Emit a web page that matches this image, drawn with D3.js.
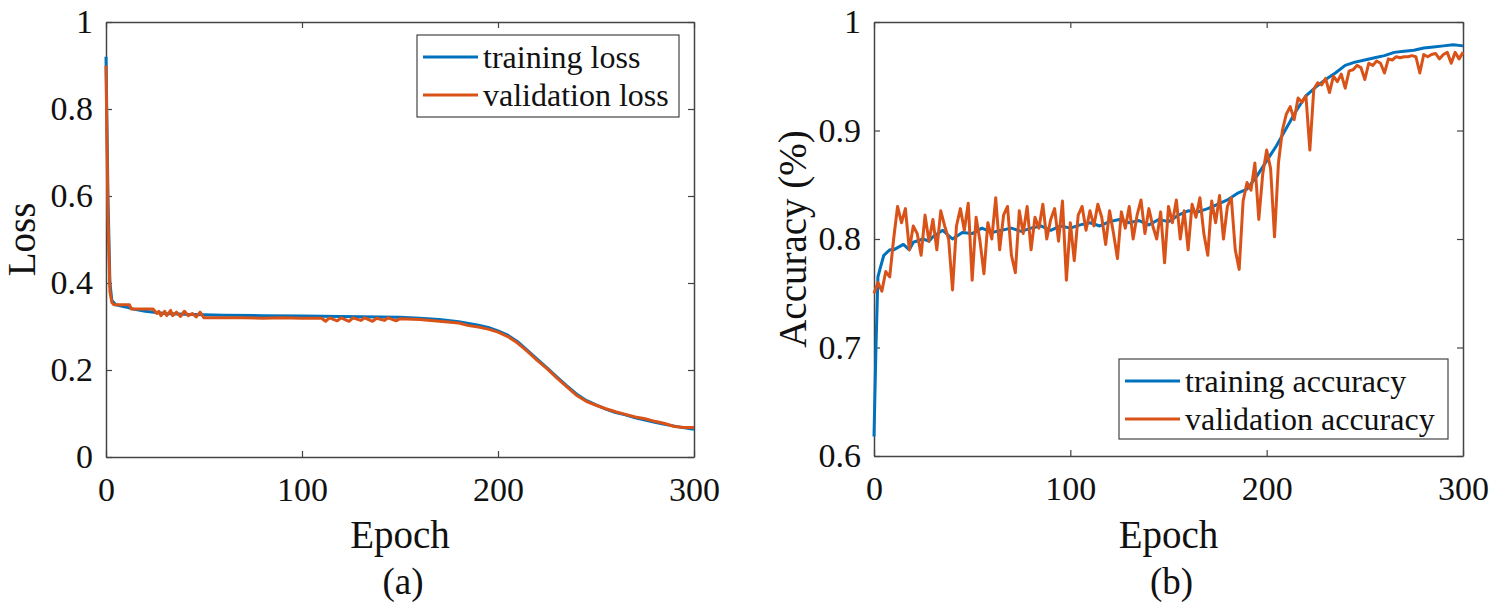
<!DOCTYPE html>
<html>
<head>
<meta charset="utf-8">
<script src="https://cdn.jsdelivr.net/npm/d3@7"></script>
<style>
  body { margin: 0; background: #fff; }
  svg text { font-family: "Liberation Serif", "DejaVu Serif", "Noto Serif", "Times New Roman", serif; fill: #111; }
</style>
</head>
<body>
<div id="chart"></div>
<script>
// ---- data ----
const lossTicksY = [0, 0.2, 0.4, 0.6, 0.8, 1]
const accTicksY = [0.6, 0.7, 0.8, 0.9, 1]
const epochTicks = [0, 100, 200, 300]

const trainLossEpochs = [0, 1, 2, 3, 5, 10, 14, 20, 30, 40, 50, 60, 80, 100, 120, 140, 150, 160, 170, 180, 190, 195, 200, 205, 210, 215, 220, 225, 230, 235, 240, 245, 250, 255, 260, 265, 270, 275, 280, 285, 290, 295, 300]
const trainLoss = [0.92, 0.6, 0.4, 0.36, 0.35, 0.345, 0.34, 0.335, 0.33, 0.328, 0.327, 0.326, 0.325, 0.324, 0.323, 0.322, 0.321, 0.319, 0.316, 0.311, 0.303, 0.298, 0.29, 0.28, 0.265, 0.245, 0.225, 0.205, 0.184, 0.164, 0.145, 0.13, 0.12, 0.11, 0.102, 0.097, 0.09, 0.085, 0.08, 0.075, 0.071, 0.067, 0.064]

const valLossEpochs = [0, 1, 2, 3, 4, 12, 13, 24, 26, 27, 28, 30, 31, 33, 34, 36, 38, 40, 42, 44, 46, 48, 50, 60, 70, 80, 90, 100, 110, 112, 114, 118, 120, 124, 126, 130, 132, 136, 138, 142, 144, 148, 150, 160, 170, 180, 185, 190, 195, 200, 205, 210, 215, 220, 225, 230, 235, 240, 245, 250, 255, 260, 265, 270, 275, 280, 285, 290, 295, 300]
const valLoss = [0.9, 0.55, 0.38, 0.355, 0.35, 0.35, 0.34, 0.34, 0.33, 0.335, 0.325, 0.335, 0.325, 0.337, 0.325, 0.333, 0.323, 0.335, 0.325, 0.33, 0.322, 0.333, 0.32, 0.32, 0.32, 0.319, 0.32, 0.319, 0.319, 0.312, 0.32, 0.313, 0.32, 0.312, 0.32, 0.314, 0.32, 0.312, 0.319, 0.314, 0.32, 0.313, 0.318, 0.316, 0.312, 0.308, 0.302, 0.299, 0.294, 0.287, 0.277, 0.262, 0.243, 0.222, 0.203, 0.182, 0.162, 0.142, 0.128, 0.119, 0.111, 0.104, 0.098, 0.092, 0.088, 0.082, 0.077, 0.07, 0.068, 0.068]

const trainAccEpochs = [0, 1, 2, 3, 5, 8, 10, 12, 15, 18, 20, 25, 28, 30, 35, 40, 45, 50, 55, 60, 65, 70, 75, 80, 85, 90, 95, 100, 105, 110, 115, 120, 125, 130, 135, 140, 145, 150, 155, 160, 165, 170, 175, 180, 185, 190, 195, 200, 205, 210, 215, 220, 225, 230, 235, 240, 245, 250, 255, 260, 265, 270, 275, 280, 285, 290, 295, 300]
const trainAcc = [0.618, 0.7, 0.765, 0.772, 0.785, 0.79, 0.79, 0.792, 0.795, 0.79, 0.797, 0.8, 0.798, 0.802, 0.808, 0.8, 0.806, 0.805, 0.81, 0.806, 0.808, 0.81, 0.807, 0.81, 0.812, 0.808, 0.812, 0.81, 0.813, 0.815, 0.812, 0.816, 0.818, 0.815, 0.817, 0.813, 0.818, 0.816, 0.822, 0.826, 0.825, 0.828, 0.832, 0.836, 0.842, 0.846, 0.858, 0.872, 0.886, 0.902, 0.918, 0.932, 0.94, 0.947, 0.953, 0.96, 0.963, 0.965, 0.967, 0.969, 0.972, 0.973, 0.974, 0.976, 0.977, 0.978, 0.979, 0.978]

const valAccEpochs = d3.range(0, 301, 2)
const valAcc = [
  0.750, 0.760, 0.752, 0.770, 0.765, 0.800, 0.830, 0.815, 0.828, 0.790,
  0.812, 0.805, 0.785, 0.822, 0.798, 0.818, 0.790, 0.826, 0.812, 0.800,
  0.753, 0.812, 0.828, 0.808, 0.833, 0.762, 0.820, 0.798, 0.768, 0.815,
  0.800, 0.838, 0.790, 0.822, 0.830, 0.785, 0.769, 0.826, 0.805, 0.830,
  0.790, 0.820, 0.810, 0.832, 0.800, 0.818, 0.828, 0.798, 0.835, 0.762,
  0.815, 0.780, 0.822, 0.830, 0.808, 0.826, 0.812, 0.832, 0.820, 0.795,
  0.826, 0.805, 0.782, 0.825, 0.810, 0.830, 0.800, 0.822, 0.836, 0.805,
  0.828, 0.812, 0.800, 0.825, 0.778, 0.830, 0.815, 0.836, 0.800, 0.826,
  0.790, 0.832, 0.820, 0.838, 0.805, 0.785, 0.835, 0.815, 0.840, 0.800,
  0.830, 0.838, 0.790, 0.772, 0.835, 0.852, 0.845, 0.870, 0.818, 0.860,
  0.882, 0.865, 0.802, 0.870, 0.900, 0.915, 0.922, 0.910, 0.930, 0.926,
  0.932, 0.882, 0.938, 0.944, 0.942, 0.948, 0.935, 0.950, 0.945, 0.952,
  0.939, 0.955, 0.956, 0.960, 0.958, 0.947, 0.962, 0.960, 0.964, 0.962,
  0.953, 0.966, 0.965, 0.968, 0.967, 0.968, 0.968, 0.969, 0.968, 0.953,
  0.970, 0.968, 0.970, 0.971, 0.966, 0.970, 0.972, 0.962, 0.972, 0.966,
  0.972
]

// ---- drawing ----
const width = 1502
const height = 612
const blue = '#0072BD'
const orange = '#D95319'
const serif = '"Liberation Serif", "DejaVu Serif", "Noto Serif", "Times New Roman", serif'

const svg = d3.select('#chart').append('svg')
  .attr('width', width)
  .attr('height', height)
  .attr('viewBox', `0 0 ${width} ${height}`)

function drawPanel (opt) {
  const x = d3.scaleLinear().domain([0, 300]).range([opt.left, opt.right])
  const y = d3.scaleLinear().domain(opt.yDomain).range([opt.bottom, opt.top])
  const g = svg.append('g')
  const fmt = d3.format('~g')

  const styleAxis = sel => {
    sel.attr('font-family', serif)
    sel.selectAll('.domain').attr('stroke', '#444').attr('stroke-width', 1.5)
    sel.selectAll('.tick line').attr('stroke', '#444').attr('stroke-width', 1.2)
    sel.selectAll('.tick text').attr('font-size', 34).attr('fill', '#111')
  }

  g.append('g').attr('transform', `translate(0,${opt.bottom})`)
    .call(d3.axisBottom(x).tickValues(epochTicks).tickFormat(fmt).tickSizeInner(-6).tickSizeOuter(0).tickPadding(20))
    .call(styleAxis)
  g.append('g').attr('transform', `translate(0,${opt.top})`)
    .call(d3.axisTop(x).tickValues(epochTicks).tickFormat('').tickSizeInner(-6).tickSizeOuter(0))
    .call(styleAxis)
  g.append('g').attr('transform', `translate(${opt.left},0)`)
    .call(d3.axisLeft(y).tickValues(opt.yTicks).tickFormat(fmt).tickSizeInner(-6).tickSizeOuter(0).tickPadding(13))
    .call(styleAxis)
  g.append('g').attr('transform', `translate(${opt.right},0)`)
    .call(d3.axisRight(y).tickValues(opt.yTicks).tickFormat('').tickSizeInner(-6).tickSizeOuter(0))
    .call(styleAxis)

  const line = d3.line().x(d => x(d[0])).y(d => y(d[1]))

  opt.series.forEach(s => {
    g.append('path')
      .datum(d3.zip(s.epochs, s.values))
      .attr('fill', 'none')
      .attr('stroke', s.color)
      .attr('stroke-width', 3)
      .attr('stroke-linejoin', 'round')
      .attr('d', line)
  })

  // axis titles and panel label
  const cx = (opt.left + opt.right) / 2
  g.append('text').attr('x', cx).attr('y', 548)
    .attr('text-anchor', 'middle').attr('font-size', 39).text('Epoch')
  g.append('text').attr('x', cx + 3).attr('y', 594)
    .attr('text-anchor', 'middle').attr('font-size', 37).text(opt.panel)
  g.append('text')
    .attr('transform', `translate(${opt.yLabelX},${(opt.top + opt.bottom) / 2}) rotate(-90)`)
    .attr('text-anchor', 'middle').attr('font-size', 39).text(opt.yLabel)

  // legend
  const lg = g.append('g')
  lg.append('rect')
    .attr('x', opt.legend.x).attr('y', opt.legend.y)
    .attr('width', opt.legend.w).attr('height', opt.legend.h)
    .attr('fill', '#fff').attr('stroke', '#444').attr('stroke-width', 1.2)
  opt.series.forEach((s, i) => {
    const ly = opt.legend.y + opt.legend.row0 + i * opt.legend.step
    lg.append('line')
      .attr('x1', opt.legend.x + 6).attr('x2', opt.legend.x + 61)
      .attr('y1', ly).attr('y2', ly)
      .attr('stroke', s.color).attr('stroke-width', 3)
    lg.append('text')
      .attr('x', opt.legend.x + 66).attr('y', ly + 11)
      .attr('font-size', 32).text(s.name)
  })
}

drawPanel({
  left: 106, right: 694, top: 22, bottom: 457,
  yDomain: [0, 1], yTicks: lossTicksY,
  yLabel: 'Loss', yLabelX: 35, panel: '(a)',
  legend: { x: 417, y: 35, w: 262, h: 82, row0: 22, step: 38 },
  series: [
    { name: 'training loss', epochs: trainLossEpochs, values: trainLoss, color: blue },
    { name: 'validation loss', epochs: valLossEpochs, values: valLoss, color: orange }
  ]
})

drawPanel({
  left: 874, right: 1463, top: 22, bottom: 456,
  yDomain: [0.6, 1], yTicks: accTicksY,
  yLabel: 'Accuracy (%)', yLabelX: 806, panel: '(b)',
  legend: { x: 1119, y: 359, w: 329, h: 80, row0: 22, step: 38 },
  series: [
    { name: 'training accuracy', epochs: trainAccEpochs, values: trainAcc, color: blue },
    { name: 'validation accuracy', epochs: valAccEpochs, values: valAcc, color: orange }
  ]
})
</script>
</body>
</html>
